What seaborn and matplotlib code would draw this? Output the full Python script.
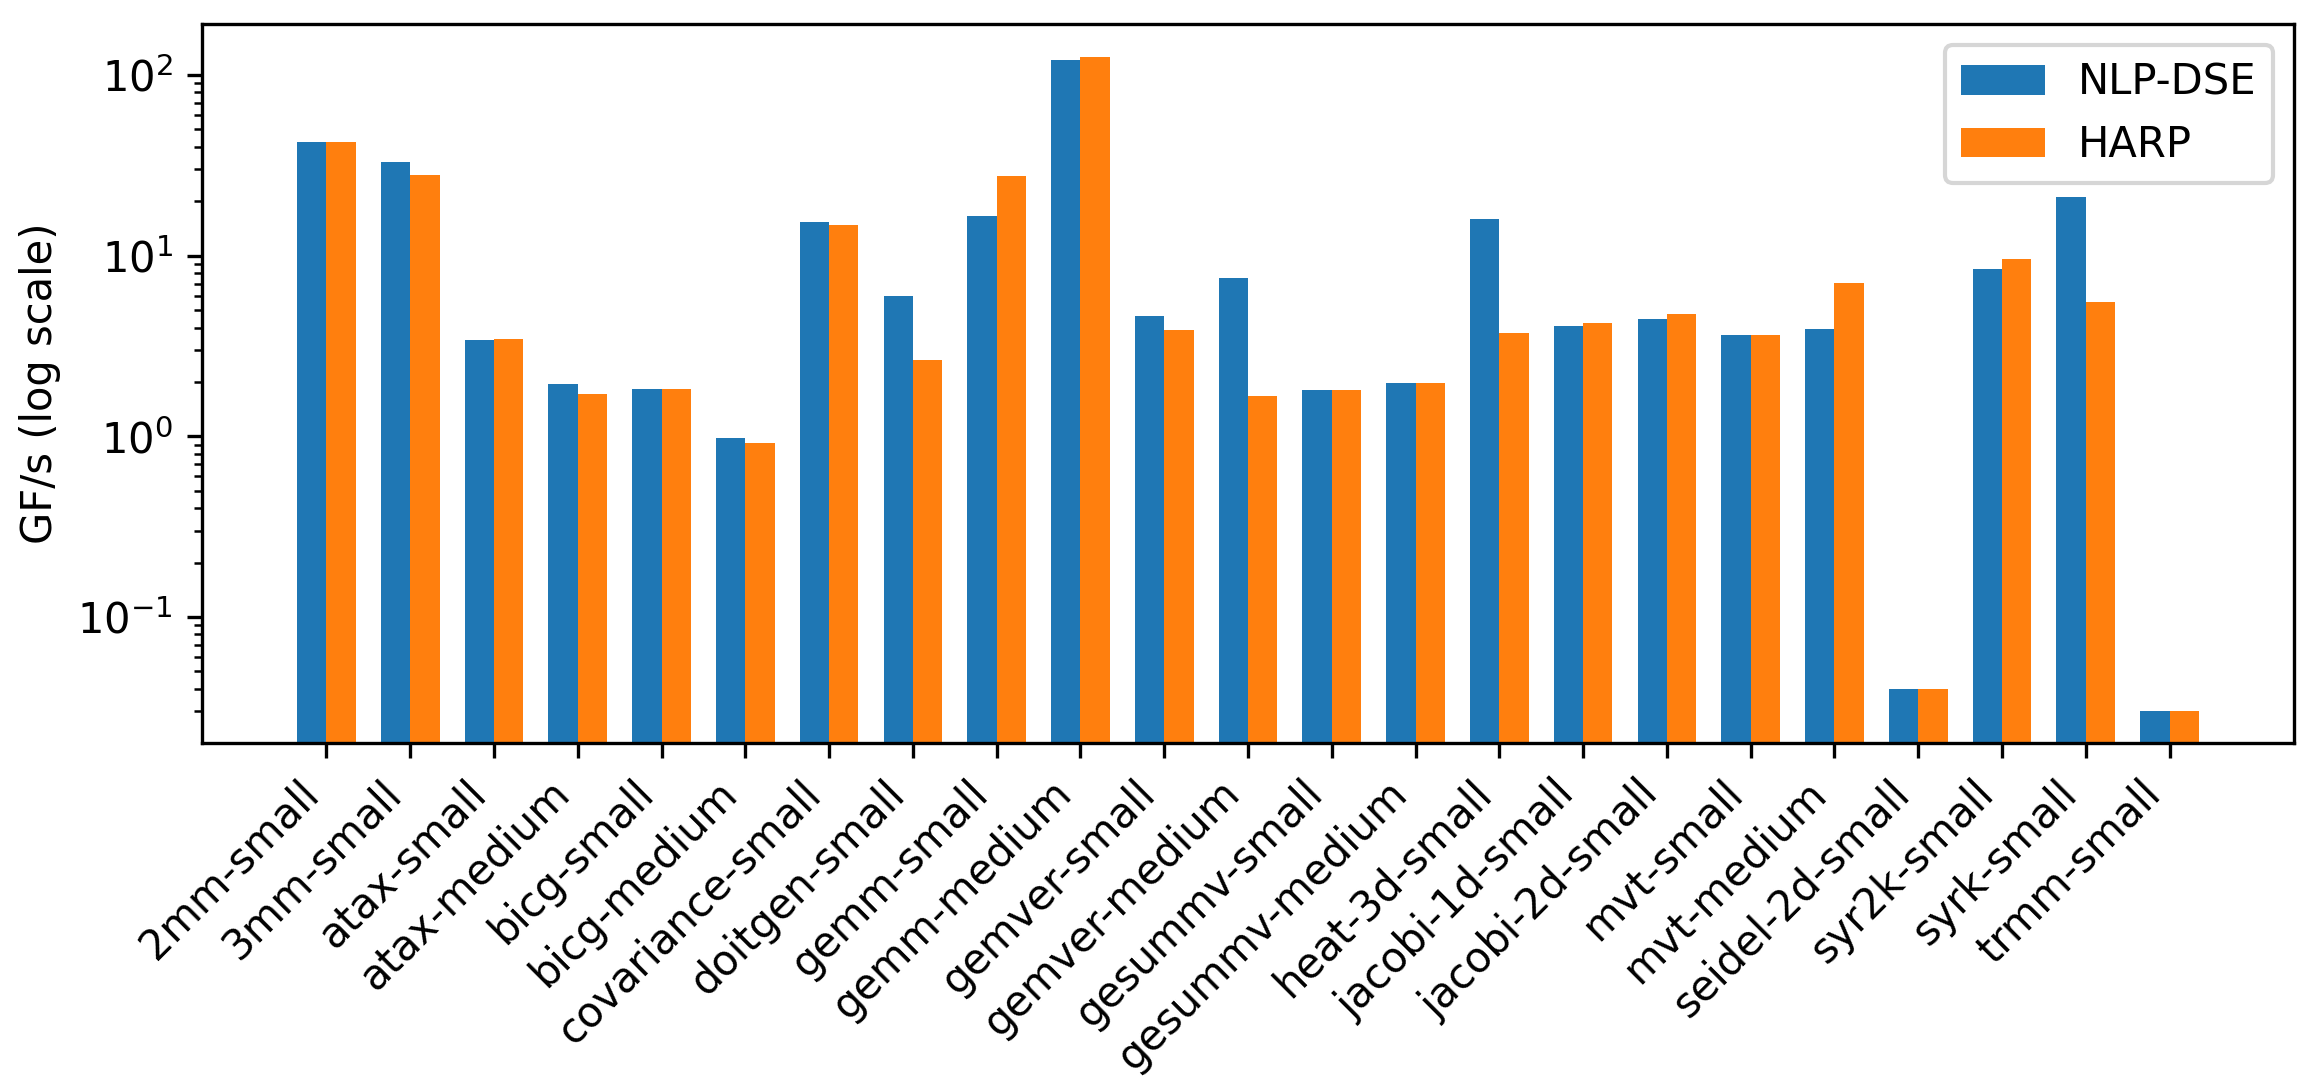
import numpy as np
import pandas as pd
import matplotlib
matplotlib.use("Agg")
import matplotlib.pyplot as plt
import seaborn as sns

# Kernels on the x axis
kernels = ['2mm-small', '3mm-small', 'atax-small', 'atax-medium', 'bicg-small',
           'bicg-medium', 'covariance-small', 'doitgen-small', 'gemm-small',
           'gemm-medium', 'gemver-small', 'gemver-medium', 'gesummv-small',
           'gesummv-medium', 'heat-3d-small', 'jacobi-1d-small', 'jacobi-2d-small',
           'mvt-small', 'mvt-medium', 'seidel-2d-small', 'syr2k-small',
           'syrk-small', 'trmm-small']

# GF/s values
nlp_dse = [42.5, 33.0, 3.40, 1.94, 1.82, 0.975, 15.3, 5.97, 16.5, 121.0, 4.62,
           7.50, 1.80, 1.97, 15.9, 4.07, 4.45, 3.63, 3.92, 0.040, 8.41, 21.1, 0.030]
harp = [42.5, 27.9, 3.44, 1.72, 1.82, 0.914, 14.8, 2.64, 27.5, 125.7, 3.86,
        1.67, 1.80, 1.97, 3.72, 4.23, 4.74, 3.63, 7.05, 0.040, 9.57, 5.52, 0.030]

methods = ['NLP-DSE', 'HARP']
colors = ['#1f77b4', '#ff7f0e']

# long format for seaborn
df = pd.DataFrame({
    'kernel': kernels * 2,
    'gfs': nlp_dse + harp,
    'method': ['NLP-DSE'] * len(kernels) + ['HARP'] * len(kernels),
})

fig, ax = plt.subplots(figsize=(2312 / 300, 1092 / 300), dpi=300)
ax.set_yscale('log')
sns.barplot(data=df, x='kernel', y='gfs', hue='method', hue_order=methods,
            palette=colors, width=0.7, errorbar=None, linewidth=0,
            saturation=1, ax=ax)

ax.set_xlim(-1.485, len(kernels) - 1 + 1.485)
ax.set_ylim(0.02004, 191.5)
ax.set_xlabel('')
ax.set_ylabel('GF/s (log scale)')
ax.set_xticks(range(len(kernels)))
ax.set_xticklabels(kernels, rotation=45, ha='right')

handles, labels = ax.get_legend_handles_labels()
ax.legend(handles, labels, loc='upper right')

plt.subplots_adjust(left=0.0874, right=0.9922, top=0.978, bottom=0.3196)
plt.savefig('out.png', dpi=300)
plt.close()
